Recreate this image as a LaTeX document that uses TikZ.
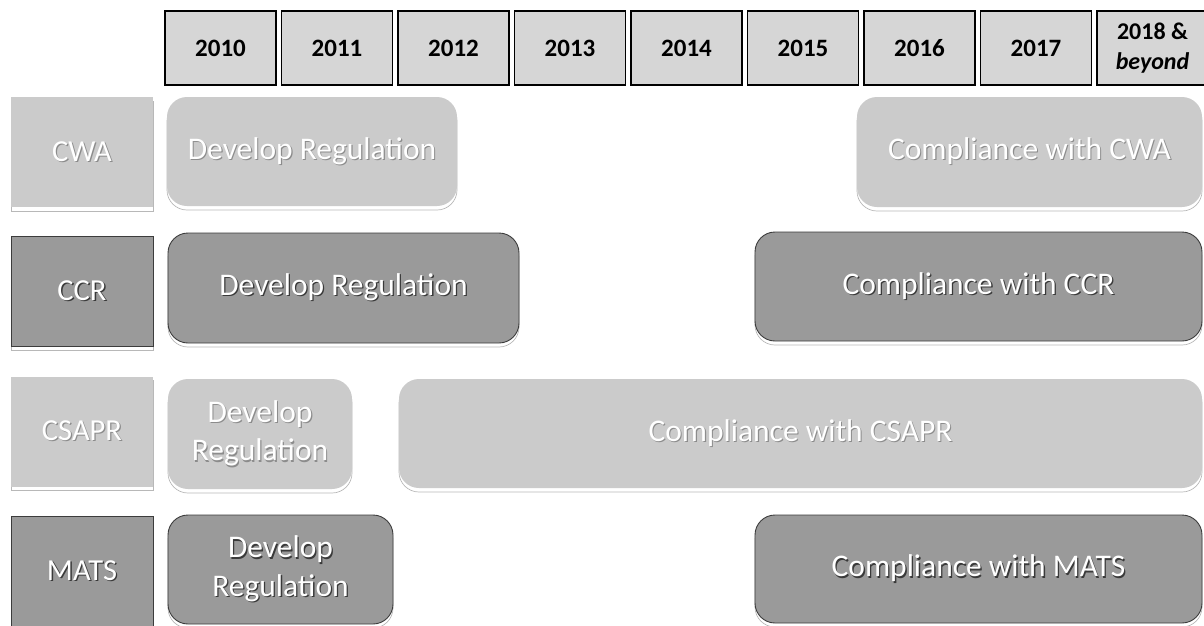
\documentclass[tikz,border=0pt]{standalone}
\usepackage{fontspec}
\setmainfont{Carlito}
\definecolor{yearfill}{HTML}{D6D6D6}
\definecolor{lightfill}{HTML}{CBCBCB}
\definecolor{darkfill}{HTML}{9A9A9A}
\definecolor{darkedge}{HTML}{3C3C3C}
\definecolor{darkshade}{HTML}{3A3A3A}
\definecolor{lightshade}{HTML}{8C8C8C}
\newcommand\embD[1]{\leavevmode\rlap{\textcolor{darkshade}{\kern1.3pt\raisebox{-1.3pt}{#1}}}\textcolor{white}{#1}}
\newcommand\embL[1]{\leavevmode\rlap{\textcolor{lightshade}{\kern1.1pt\raisebox{-1.1pt}{#1}}}\textcolor{white}{#1}}
\tikzset{
  yearbox/.style={draw=black, line width=1.4pt, fill=yearfill, minimum width=111pt,
    minimum height=74pt, inner sep=0pt, align=center,
    font=\fontsize{25}{29}\selectfont\bfseries},
  reflect/.style={preaction={draw=black!28, line width=0.7pt,
    transform canvas={yshift=-4pt}}},
  lightlab/.style={fill=lightfill, minimum width=142pt, minimum height=110pt,
    inner sep=0pt, align=center, font=\fontsize{30.5}{36}\selectfont, reflect},
  darklab/.style={fill=darkfill, draw=darkedge, line width=0.9pt, minimum width=142pt,
    minimum height=110pt, inner sep=0pt, align=center,
    font=\fontsize{30.5}{36}\selectfont, reflect},
  lightbar/.style={fill=lightfill, rounded corners=20pt, inner sep=0pt, align=center,
    font=\fontsize{31.5}{38.5}\selectfont, reflect},
  darkbar/.style={fill=darkfill, draw=darkedge, line width=0.9pt, rounded corners=20pt,
    inner sep=0pt, align=center, font=\fontsize{31.5}{38.5}\selectfont, reflect},
}
\begin{document}
\begin{tikzpicture}[x=1pt,y=-1pt]
\useasboundingbox (0,0) rectangle (1204,625);
% years
\node[yearbox] (y2010) at (220.5,48) {2010};
\node[yearbox] (y2011) at (337,48) {2011};
\node[yearbox] (y2012) at (453.5,48) {2012};
\node[yearbox] (y2013) at (570,48) {2013};
\node[yearbox] (y2014) at (686.5,48) {2014};
\node[yearbox] (y2015) at (803,48) {2015};
\node[yearbox] (y2016) at (919.5,48) {2016};
\node[yearbox] (y2017) at (1036,48) {2017};
\node[yearbox, font=\fontsize{24}{30}\selectfont\bfseries] (y2018) at (1152.5,48) {2018 \&\\\itshape beyond};
% labels
\node[lightlab] (cwa) at (82,152) {\embL{CWA}};
\node[darklab] (ccr) at (82,291) {\embD{CCR}};
\node[lightlab] (csapr) at (82,431.5) {\embL{CSAPR}};
\node[darklab] (mats) at (82,571) {\embD{MATS}};
% CWA
\node[lightbar, minimum width=290pt, minimum height=109pt] (cwadev) at (312,151.5) {\embL{Develop Regulation}};
\node[lightbar, minimum width=345pt, minimum height=110pt] (cwacomp) at (1029.5,152) {\embL{Compliance with CWA}};
% CCR
\node[darkbar, minimum width=351pt, minimum height=110pt] (ccrdev) at (343.5,288) {\embD{Develop Regulation}};
\node[darkbar, minimum width=447pt, minimum height=109pt] (ccrcomp) at (978.5,286.5) {\embD{Compliance with CCR}};
% CSAPR
\node[lightbar, minimum width=184pt, minimum height=110pt] (csadev) at (260,434) {\embL{Develop}\\\embL{Regulation}};
\node[lightbar, minimum width=803pt, minimum height=109pt] (csacomp) at (800.5,433.5) {\embL{Compliance with CSAPR}};
% MATS
\node[darkbar, minimum width=225pt, minimum height=109pt] (matsdev) at (280.5,569.5) {\embD{Develop}\\\embD{Regulation}};
\node[darkbar, minimum width=447pt, minimum height=108pt] (matscomp) at (978.5,569) {\embD{Compliance with MATS}};
\end{tikzpicture}
\end{document}
